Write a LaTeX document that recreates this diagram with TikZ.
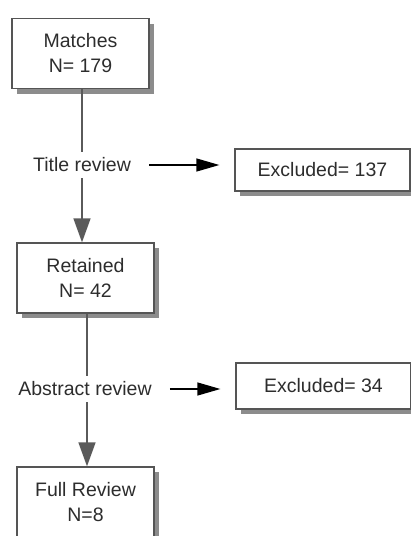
\documentclass[tikz,border=0pt]{standalone}
\usepackage{xcolor}
\usepackage{fontspec}
\setmainfont{Liberation Sans}
\usepackage{tikz}
\usetikzlibrary{arrows.meta, positioning, shadows}
\definecolor{boxgray}{RGB}{85,85,85}
\definecolor{shadegray}{RGB}{140,140,140}
\definecolor{txtgray}{RGB}{45,45,45}
\definecolor{linegray}{RGB}{90,90,90}
\tikzset{
  stagebox/.style={rectangle, draw=boxgray, fill=white, line width=1.3pt,
    minimum width=137pt, minimum height=70pt, align=center,
    text=txtgray, font=\fontsize{19.5}{25}\selectfont,
    general shadow={fill=shadegray, shadow xshift=5pt, shadow yshift=-5pt}},
  exclbox/.style={stagebox, minimum width=175pt, minimum height=42pt},
  steplabel/.style={text=txtgray, font=\fontsize{19.5}{25}\selectfont,
    inner xsep=2pt, inner ysep=6pt},
  downarrow/.style={-{Triangle[length=24pt, width=17pt]}, line width=1.5pt, color=linegray},
  downline/.style={line width=1.5pt, color=linegray},
  sidearrow/.style={-{Triangle[length=23pt, width=13pt]}, line width=1.3pt, color=black,
    shorten <=16pt, shorten >=15pt}
}
\begin{document}
\begin{tikzpicture}[x=1pt, y=-1pt]
  \useasboundingbox (0,0) rectangle (411,536);

  % Stages
  \node[stagebox] (matches) at (80.5,53.5) {Matches\\N= 179};
  \node[stagebox] (retained) at (85.5,278) {Retained\\N= 42};
  \node[stagebox] (full) at (85.5,502) {Full Review\\N=8};

  % Review steps
  \node[steplabel] (title) at (82,165) {Title review};
  \node[steplabel] (abstract) at (85,389) {Abstract review};

  % Excluded records
  \node[exclbox] (excl1) at (322.5,170) {Excluded= 137};
  \node[exclbox, minimum height=46pt] (excl2) at (323.5,386) {Excluded= 34};

  % Flow down
  \draw[downline] (matches.south -| title) -- (title.north);
  \draw[downarrow] (title.south) -- (title.south |- retained.north);
  \draw[downline] ([xshift=1.5pt]retained.south) -- ([xshift=1.5pt]retained.south |- abstract.north);
  \draw[downarrow] ([xshift=1.5pt]retained.south |- abstract.south) -- ([xshift=1.5pt]full.north);

  % Flow out
  \draw[sidearrow] (title.east) -- (title.east -| excl1.west);
  \draw[sidearrow] (abstract.east) -- (abstract.east -| excl2.west);
\end{tikzpicture}
\end{document}
